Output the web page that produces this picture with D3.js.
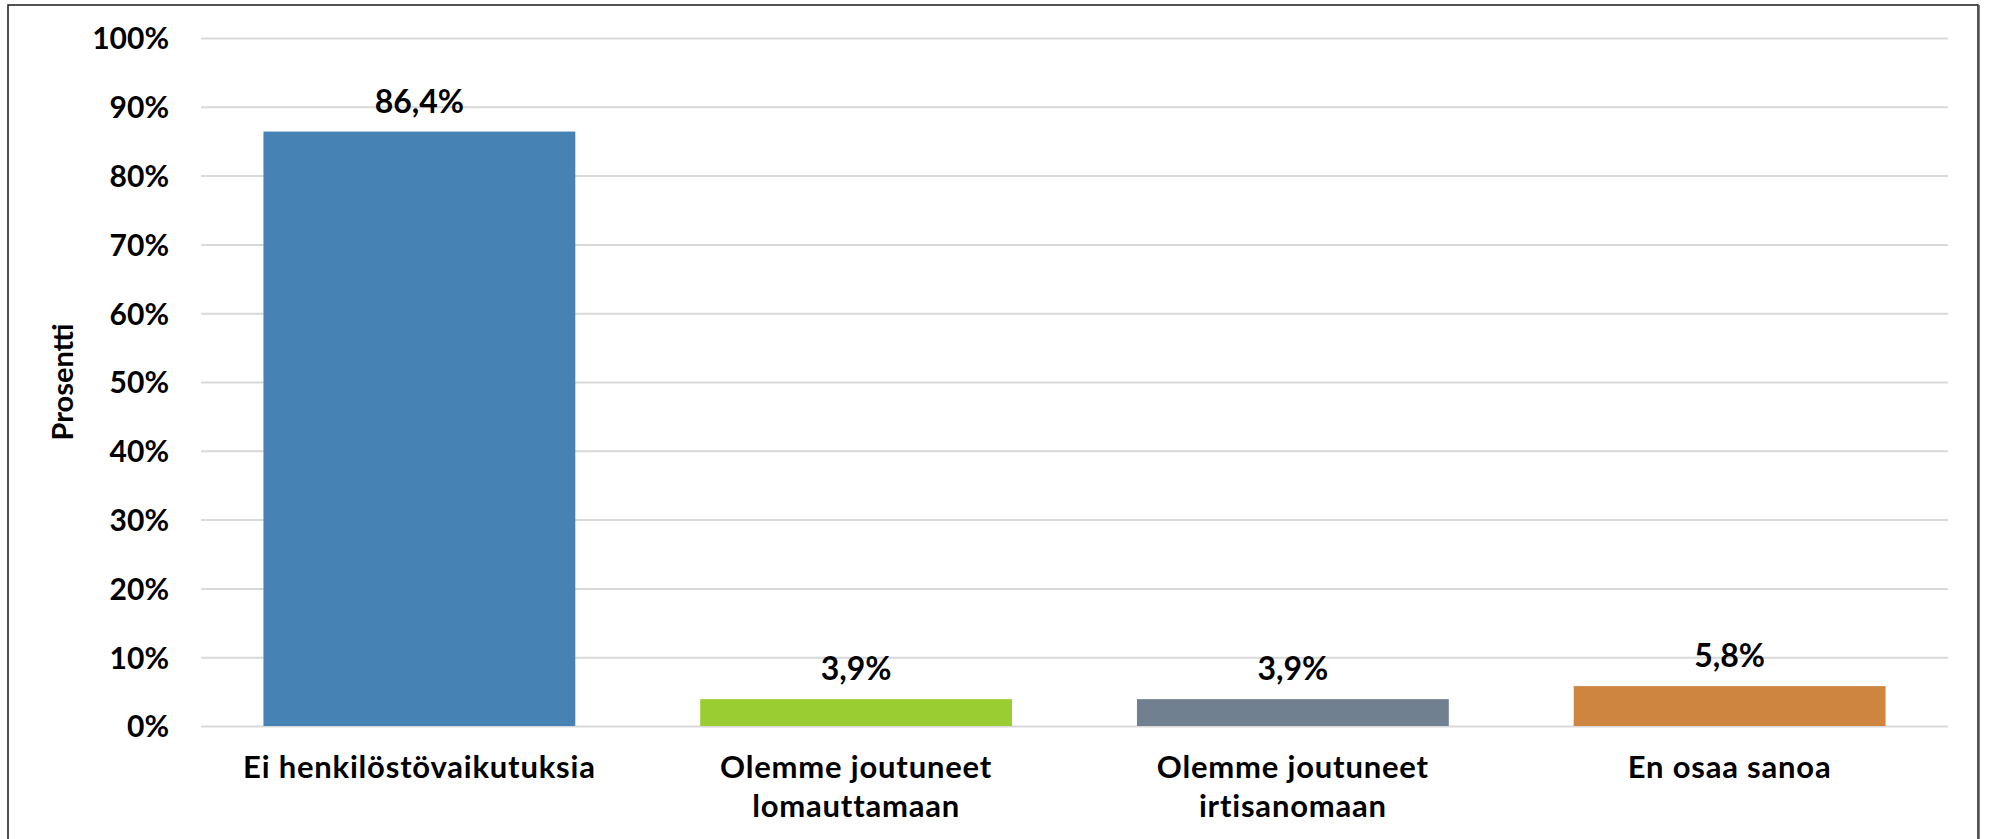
<!DOCTYPE html>
<html>
<head>
<meta charset="utf-8">
<script src="https://cdn.jsdelivr.net/npm/d3@7"></script>
<style>
  body { margin: 0; background: #fff; }
  svg { display: block; }
  svg text { font-family: Lato, "DejaVu Sans", sans-serif; font-weight: bold; }
</style>
</head>
<body>
<svg></svg>
<script>
// data
var categories = ["Ei henkilöstövaikutuksia", "Olemme joutuneet lomauttamaan", "Olemme joutuneet irtisanomaan", "En osaa sanoa"];
var values = [86.4, 3.9, 3.9, 5.8];
var colors = ["#4682b4", "#9acd32", "#708090", "#cd853f"];
var yTicks = [0, 10, 20, 30, 40, 50, 60, 70, 80, 90, 100];
var yTitle = "Prosentti";

var screen = {width: 1990, height: 839};
var margins = {top: 38, right: 42, bottom: 113, left: 201};
var width = screen.width - margins.left - margins.right;
var height = screen.height - margins.top - margins.bottom;

var fi = d3.formatLocale({decimal: ",", thousands: " ", grouping: [3], currency: ["", "€"]});
var fmt = fi.format(".1f");

var svg = d3.select("svg")
    .attr("width", screen.width)
    .attr("height", screen.height);

// outer frame
svg.append("rect")
    .attr("x", 8).attr("y", 5)
    .attr("width", 1970).attr("height", 850)
    .attr("fill", "none")
    .attr("stroke", "#1a1a1a")
    .attr("stroke-width", 1.5);
svg.append("line")
    .attr("x1", 1978.5).attr("x2", 1978.5)
    .attr("y1", 5).attr("y2", screen.height)
    .attr("stroke", "#555")
    .attr("stroke-width", 2.5);

var g = svg.append("g")
    .attr("transform", "translate(" + margins.left + "," + margins.top + ")");

var xScale = d3.scaleBand()
    .domain(categories)
    .range([0, width])
    .paddingInner(0.286)
    .paddingOuter(0.143);

var yScale = d3.scaleLinear()
    .domain([0, 100])
    .range([height, 0]);

var yAxis = d3.axisLeft(yScale)
    .tickValues(yTicks)
    .tickSize(-width)
    .tickPadding(32)
    .tickFormat(function(d){ return d + "%"; });

var yG = g.append("g").attr("class", "y axis").call(yAxis)
    .attr("font-family", null);
yG.select(".domain").remove();
yG.selectAll("line").attr("stroke", "#d9d9d9").attr("stroke-width", 2);
yG.selectAll("text")
    .attr("fill", "#000")
    .style("font-size", "30px")
    .attr("dy", "0.36em");

var xAxis = d3.axisBottom(xScale).tickSize(0);
var xG = g.append("g")
    .attr("class", "x axis")
    .attr("transform", "translate(0," + height + ")")
    .call(xAxis)
    .attr("font-family", null);
xG.select(".domain").remove();
xG.selectAll("text")
    .attr("fill", "#000")
    .style("font-size", "31px")
    .style("letter-spacing", "0.8px")
    .attr("y", 52)
    .attr("dy", 0)
    .each(function(d){
        var text = d3.select(this);
        var words = d.split(" ");
        var maxW = xScale.step() - 40;
        text.text(null);
        var lines = [];
        var line = [];
        var tspan = text.append("tspan").attr("x", 0);
        words.forEach(function(w){
            line.push(w);
            tspan.text(line.join(" "));
            if (tspan.node().getComputedTextLength() > maxW && line.length > 1) {
                line.pop();
                lines.push(line.join(" "));
                line = [w];
            }
        });
        lines.push(line.join(" "));
        text.text(null);
        lines.forEach(function(l, i){
            text.append("tspan")
                .attr("x", 0)
                .attr("dy", i == 0 ? 0 : 39)
                .text(l);
        });
    });

// bars
g.selectAll("rect.bar")
    .data(values)
    .enter()
    .append("rect")
    .attr("class", "bar")
    .attr("x", function(v, i){ return xScale(categories[i]); })
    .attr("y", function(v){ return yScale(v); })
    .attr("width", xScale.bandwidth())
    .attr("height", function(v){ return height - yScale(v); })
    .attr("fill", function(v, i){ return colors[i]; });

// value labels
g.selectAll("text.val")
    .data(values)
    .enter()
    .append("text")
    .attr("class", "val")
    .attr("x", function(v, i){ return xScale(categories[i]) + xScale.bandwidth() / 2; })
    .attr("y", function(v){ return yScale(v) - 19; })
    .attr("text-anchor", "middle")
    .style("font-size", "32px")
    .text(function(v){ return fmt(v) + "%"; });

// y title
svg.append("text")
    .attr("transform", "translate(73," + (margins.top + height / 2) + ") rotate(-90)")
    .attr("text-anchor", "middle")
    .style("font-size", "29px")
    .text(yTitle);
</script>
</body>
</html>
